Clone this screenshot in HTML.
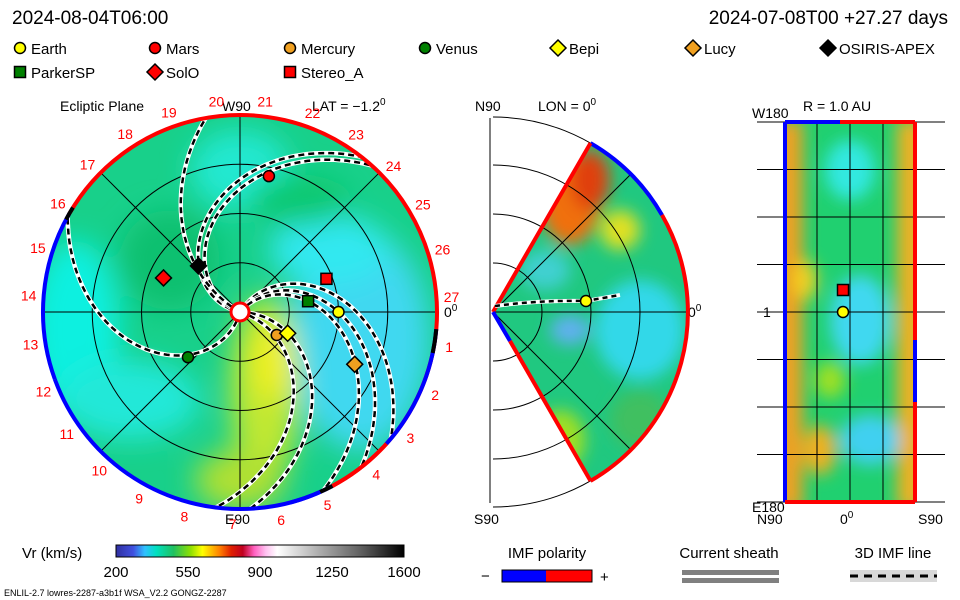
<!DOCTYPE html>
<html><head><meta charset="utf-8">
<style>
html,body{margin:0;padding:0;background:#fff;}
svg{display:block;font-family:"Liberation Sans",sans-serif;}
</style></head>
<body>
<svg id="s" width="960" height="600" viewBox="0 0 960 600" xmlns="http://www.w3.org/2000/svg">
<defs>
<filter id="bl" x="-20%" y="-20%" width="140%" height="140%"><feGaussianBlur stdDeviation="14"/></filter>
<filter id="bl2" x="-20%" y="-20%" width="140%" height="140%"><feGaussianBlur stdDeviation="8"/></filter>
<clipPath id="cEc"><circle cx="240" cy="312" r="197"/></clipPath>
<clipPath id="cW"><path d="M493,312 L590.5,143.1 A195,195 0 0 1 590.5,480.9 Z"/></clipPath>
<clipPath id="cR"><rect x="785" y="122" width="130" height="380"/></clipPath>
<linearGradient id="cb" x1="0" x2="1">
<stop offset="0" stop-color="#3030a0"/><stop offset="0.06" stop-color="#4050e0"/><stop offset="0.1" stop-color="#30c0ff"/><stop offset="0.14" stop-color="#00e0c0"/><stop offset="0.2" stop-color="#20c060"/><stop offset="0.26" stop-color="#90e000"/><stop offset="0.3" stop-color="#ffff00"/><stop offset="0.36" stop-color="#ff8000"/><stop offset="0.4" stop-color="#e02000"/><stop offset="0.44" stop-color="#c00020"/><stop offset="0.48" stop-color="#ff60c0"/><stop offset="0.52" stop-color="#ffc0f0"/><stop offset="0.56" stop-color="#ffffff"/><stop offset="0.7" stop-color="#b0b0b0"/><stop offset="0.85" stop-color="#606060"/><stop offset="1" stop-color="#000"/>
</linearGradient>
</defs>

<text x="12" y="24" font-size="19">2024-08-04T06:00</text>
<text x="948" y="24" font-size="19" text-anchor="end">2024-07-08T00 +27.27 days</text>

<g id="legend"></g>

<g>
<text x="60" y="111" font-size="14">Ecliptic Plane</text>
<text x="222" y="111" font-size="14">W90</text>
<text x="312" y="111" font-size="14">LAT = −1.2<tspan dy="-6" font-size="10">0</tspan></text>
<text x="225" y="524" font-size="14">E90</text>
<text x="444" y="317" font-size="14">0<tspan dy="-6" font-size="10">0</tspan></text>
<g clip-path="url(#cEc)">
<circle cx="240" cy="312" r="197" fill="#18d08a"/>
<g filter="url(#bl)">
<ellipse cx="75" cy="330" rx="45" ry="90" fill="#10f0e0"/>
<ellipse cx="130" cy="400" rx="70" ry="40" fill="#20e8d8"/>
<ellipse cx="240" cy="170" rx="50" ry="40" fill="#20e8d0"/>
<ellipse cx="360" cy="340" rx="70" ry="110" fill="#40d8f0"/>
<ellipse cx="330" cy="250" rx="60" ry="35" fill="#30e8f0"/>
<ellipse cx="265" cy="390" rx="35" ry="95" fill="#c0e830"/>
<ellipse cx="272" cy="360" rx="20" ry="40" fill="#f0f020"/>
<ellipse cx="240" cy="480" rx="45" ry="30" fill="#b0e030"/>
<ellipse cx="170" cy="260" rx="50" ry="50" fill="#10c070"/>
<ellipse cx="300" cy="200" rx="50" ry="25" fill="#10c870"/>
</g>
</g>
<g id="ecl" fill="none"></g>
</g>

<g>
<text x="475" y="111" font-size="14">N90</text>
<text x="538" y="111" font-size="14">LON = 0<tspan dy="-6" font-size="10">0</tspan></text>
<text x="474" y="524" font-size="14">S90</text>
<text x="688" y="317" font-size="14">0<tspan dy="-6" font-size="10">0</tspan></text>
<g clip-path="url(#cW)">
<rect x="490" y="140" width="200" height="345" fill="#20c880"/>
<g filter="url(#bl2)">
<ellipse cx="570" cy="200" rx="30" ry="45" fill="#f07010"/>
<ellipse cx="590" cy="180" rx="20" ry="30" fill="#e04010"/>
<ellipse cx="620" cy="230" rx="20" ry="20" fill="#e0e020"/>
<ellipse cx="640" cy="330" rx="45" ry="50" fill="#30d8e8"/>
<ellipse cx="570" cy="330" rx="20" ry="15" fill="#60b0f0"/>
<ellipse cx="545" cy="270" rx="25" ry="20" fill="#40d0d0"/>
<ellipse cx="560" cy="440" rx="25" ry="30" fill="#a0e020"/>
<ellipse cx="640" cy="420" rx="30" ry="30" fill="#40c060"/>
</g>
</g>
<g id="mer" fill="none"></g>
</g>

<g>
<text x="803" y="111" font-size="14">R = 1.0 AU</text>
<text x="752" y="118" font-size="14">W180</text>
<text x="752" y="512" font-size="14">E180</text>
<text x="763" y="317" font-size="14">1</text>
<text x="757" y="524" font-size="14">N90</text>
<text x="840" y="524" font-size="14">0<tspan dy="-6" font-size="10">0</tspan></text>
<text x="918" y="524" font-size="14">S90</text>
<g clip-path="url(#cR)">
<rect x="785" y="122" width="130" height="380" fill="#20d070"/>
<g filter="url(#bl2)">
<rect x="775" y="120" width="28" height="390" fill="#f0a020"/>
<rect x="897" y="120" width="28" height="390" fill="#f0b020"/>
<ellipse cx="850" cy="170" rx="25" ry="30" fill="#30e8e0"/>
<ellipse cx="860" cy="320" rx="30" ry="45" fill="#40d8f0"/>
<ellipse cx="870" cy="440" rx="30" ry="25" fill="#40d0f0"/>
<ellipse cx="820" cy="450" rx="16" ry="25" fill="#f0b020"/>
<ellipse cx="830" cy="380" rx="15" ry="18" fill="#a0e020"/>
<ellipse cx="805" cy="280" rx="12" ry="20" fill="#f0d020"/>
</g>
</g>
<g id="rad" fill="none"></g>
</g>

<g>
<text x="22" y="558" font-size="15">Vr (km/s)</text>
<rect x="116" y="545" width="288" height="12" fill="url(#cb)" stroke="#000"/>
<g font-size="15" text-anchor="middle">
<text x="116" y="577">200</text><text x="188" y="577">550</text><text x="260" y="577">900</text><text x="332" y="577">1250</text><text x="404" y="577">1600</text>
</g>
</g>
<g>
<text x="547" y="558" font-size="15" text-anchor="middle">IMF polarity</text>
<text x="481" y="581" font-size="15">−</text>
<rect x="502" y="570" width="44" height="12" fill="#0000ff"/>
<rect x="546" y="570" width="46" height="12" fill="#ff0000"/>
<rect x="502" y="570" width="90" height="12" fill="none" stroke="#000"/>
<text x="600" y="582" font-size="15">+</text>
</g>
<g>
<text x="729" y="558" font-size="15" text-anchor="middle">Current sheath</text>
<rect x="682" y="570" width="97" height="5" fill="#808080"/>
<rect x="682" y="578" width="97" height="5" fill="#808080"/>
</g>
<g>
<text x="893" y="558" font-size="15" text-anchor="middle">3D IMF line</text>
<rect x="850" y="570" width="87" height="12" fill="#d8d8d8"/>
<line x1="850" y1="576" x2="937" y2="576" stroke="#000" stroke-width="3" stroke-dasharray="8,6"/>
</g>
<text x="4" y="596" font-size="9">ENLIL-2.7 lowres-2287-a3b1f WSA_V2.2 GONGZ-2287</text>

<script>
// ---- data ----
const bodyNames=["Earth","Mars","Mercury","Venus","Bepi","Lucy","OSIRIS-APEX","ParkerSP","SolO","Stereo_A"];
const bodyColors=["#ffff00","#ff0000","#f0a020","#008000","#ffff00","#f0a020","#000000","#008000","#ff0000","#ff0000"];
const bodyShapes=["c","c","c","c","d","d","d","s","d","s"];
const bodyR=[1.0,1.41,0.44,0.70,0.53,1.28,0.63,0.70,0.85,0.94];   // AU
const bodyAng=[0,78,-32,221,-24,-24.5,132,9,156,21];              // deg
const dayLabels=[1,2,3,4,5,6,7,8,9,10,11,12,13,14,15,16,17,18,19,20,21,22,23,24,25,26,27];
const spiralStarts=[168,160,150,255,58,52,49,-1,-17];   // deg at sun
const spiralRates=[58,56,25,52,49,52,57,43,40];          // deg per AU
const ringsAU=[0.5,1,1.5,2];

const NS="http://www.w3.org/2000/svg";
const cx=240,cy=312,scale=98.5;
function mk(tag,attrs,parent){const e=document.createElementNS(NS,tag);for(const k in attrs)e.setAttribute(k,attrs[k]);parent.appendChild(e);return e;}
function px(r,a){const t=a*Math.PI/180;return [cx+r*scale*Math.cos(t),cy-r*scale*Math.sin(t)];}
function marker(g,x,y,shape,color){
  if(shape==="c")return mk("circle",{cx:x,cy:y,r:5.5,fill:color,stroke:"#000","stroke-width":1.5},g);
  if(shape==="s")return mk("rect",{x:x-5.5,y:y-5.5,width:11,height:11,fill:color,stroke:"#000","stroke-width":1.5},g);
  return mk("path",{d:`M${x},${y-8}L${x+8},${y}L${x},${y+8}L${x-8},${y}Z`,fill:color,stroke:"#000","stroke-width":1.5},g);
}

const lg=document.getElementById("legend");
const lgX=[20,155,290,425,558,693,828,20,155,290],lgY=[48,48,48,48,48,48,48,72,72,72];
bodyNames.forEach((n,i)=>{
  const g=mk("g",{},lg);
  
  
  marker(g,lgX[i],lgY[i],bodyShapes[i],bodyColors[i]);
  const t=mk("text",{x:lgX[i]+11,y:lgY[i]+6,"font-size":15},g);t.textContent=n;
});

const ecl=document.getElementById("ecl");
ringsAU.slice(0,3).forEach(r=>{mk("circle",{cx,cy,r:r*scale,stroke:"#000","stroke-width":1},ecl);});
[0,45,90,135].forEach(a=>{const [x1,y1]=px(2,a),[x2,y2]=px(2,a+180);mk("line",{x1,y1,x2,y2,stroke:"#000","stroke-width":1},ecl);});
spiralStarts.forEach((a0,i)=>{
  let d="";for(let r=0.1;r<=2.02;r+=0.02){const [x,y]=px(r,a0-r*spiralRates[i]);d+=(d?"L":"M")+x.toFixed(1)+","+y.toFixed(1);}
  const w=mk("path",{d,stroke:"#fff","stroke-width":4.5,"clip-path":"url(#cEc)"},ecl);
  
  
  const b=mk("path",{d,stroke:"#000","stroke-width":2.5,"stroke-dasharray":"6,4","clip-path":"url(#cEc)"},ecl);
  
  
});
function arc(a1,a2,col,w){const [x1,y1]=px(2.0,a1),[x2,y2]=px(2.0,a2);const large=Math.abs(a2-a1)>180?1:0;
  return mk("path",{d:`M${x1},${y1}A${2*scale},${2*scale} 0 ${large} 0 ${x2},${y2}`,stroke:col,"stroke-width":w},ecl);}
arc(-42,150,"#ff0000",4);arc(150,200,"#0000ff",4);arc(200,270,"#0000ff",4);arc(270,298,"#0000ff",4);
arc(-62,-42,"#ff0000",4);arc(-42,-5,"#0000ff",4);arc(-12,-5,"#000",4);arc(148,152,"#000",4);arc(-66,-62,"#000",4);arc(-75,-66,"#0000ff",4);arc(-62,-42,"#ff0000",4);
mk("circle",{cx,cy,r:9,fill:"#fff",stroke:"#ff0000","stroke-width":3},ecl);
dayLabels.forEach(d=>{const ang=d<5?4-(d)*13.5:4+(27-d)*13.2;const th=ang*Math.PI/180;const x=cx+212*Math.cos(th),y=cy-212*Math.sin(th);
  const e=mk("text",{x,y:y+5,"font-size":14,fill:"#ff0000","text-anchor":"middle"},ecl);e.textContent=d;
  
  });
bodyNames.forEach((n,i)=>{const [x,y]=px(bodyR[i],bodyAng[i]);const m=marker(ecl,x,y,bodyShapes[i],bodyColors[i]);
  
  });

const mer=document.getElementById("mer");
const mx=493,my=312;
[49,98,147,195].forEach(r=>mk("path",{d:`M${mx},${my-r}A${r},${r} 0 0 1 ${mx},${my+r}`,stroke:"#000","stroke-width":1},mer));
mk("line",{x1:490,y1:118,x2:490,y2:503,stroke:"#000"},mer);
mk("line",{x1:mx,y1:my,x2:mx+195,y2:my,stroke:"#000"},mer);
[45,-45].forEach(a=>{const t=a*Math.PI/180;mk("line",{x1:mx,y1:my,x2:mx+195*Math.cos(t),y2:my-195*Math.sin(t),stroke:"#000"},mer);});
mk("path",{d:"M590.5,143.1 A195,195 0 0 1 662,215",stroke:"#0000ff","stroke-width":4},mer);
mk("path",{d:"M662,215 A195,195 0 0 1 590.5,480.9",stroke:"#ff0000","stroke-width":4},mer);
mk("line",{x1:493,y1:312,x2:590.5,y2:143.1,stroke:"#ff0000","stroke-width":4},mer);
mk("line",{x1:493,y1:312,x2:510,y2:341,stroke:"#0000ff","stroke-width":4},mer);
mk("line",{x1:510,y1:341,x2:590.5,y2:480.9,stroke:"#ff0000","stroke-width":4},mer);
mk("path",{d:"M495,306 Q540,300 586,301 L620,295",stroke:"#fff","stroke-width":4},mer);
mk("path",{d:"M495,306 Q540,300 586,301 L620,295",stroke:"#000","stroke-width":2.5,"stroke-dasharray":"5,4"},mer);
const me=marker(mer,586,301,"c","#ffff00");



const rad=document.getElementById("rad");
for(let i=0;i<=8;i++){const y=122+i*47.5;mk("line",{x1:757,y1:y,x2:945,y2:y,stroke:"#000"},rad);}
[785,817,850,883,915].forEach(x=>mk("line",{x1:x,y1:122,x2:x,y2:502,stroke:"#000"},rad));
mk("line",{x1:785,y1:122,x2:785,y2:502,stroke:"#0000ff","stroke-width":4},rad);
mk("line",{x1:915,y1:122,x2:915,y2:502,stroke:"#ff0000","stroke-width":4},rad);
mk("line",{x1:915,y1:340,x2:915,y2:402,stroke:"#0000ff","stroke-width":4},rad);
mk("line",{x1:785,y1:122,x2:840,y2:122,stroke:"#0000ff","stroke-width":4},rad);
mk("line",{x1:840,y1:122,x2:915,y2:122,stroke:"#ff0000","stroke-width":4},rad);
mk("line",{x1:785,y1:502,x2:915,y2:502,stroke:"#ff0000","stroke-width":4},rad);
const r1=marker(rad,843,290,"s","#ff0000");


const r2=marker(rad,843,312,"c","#ffff00");


</script>
</svg>
</body></html>
